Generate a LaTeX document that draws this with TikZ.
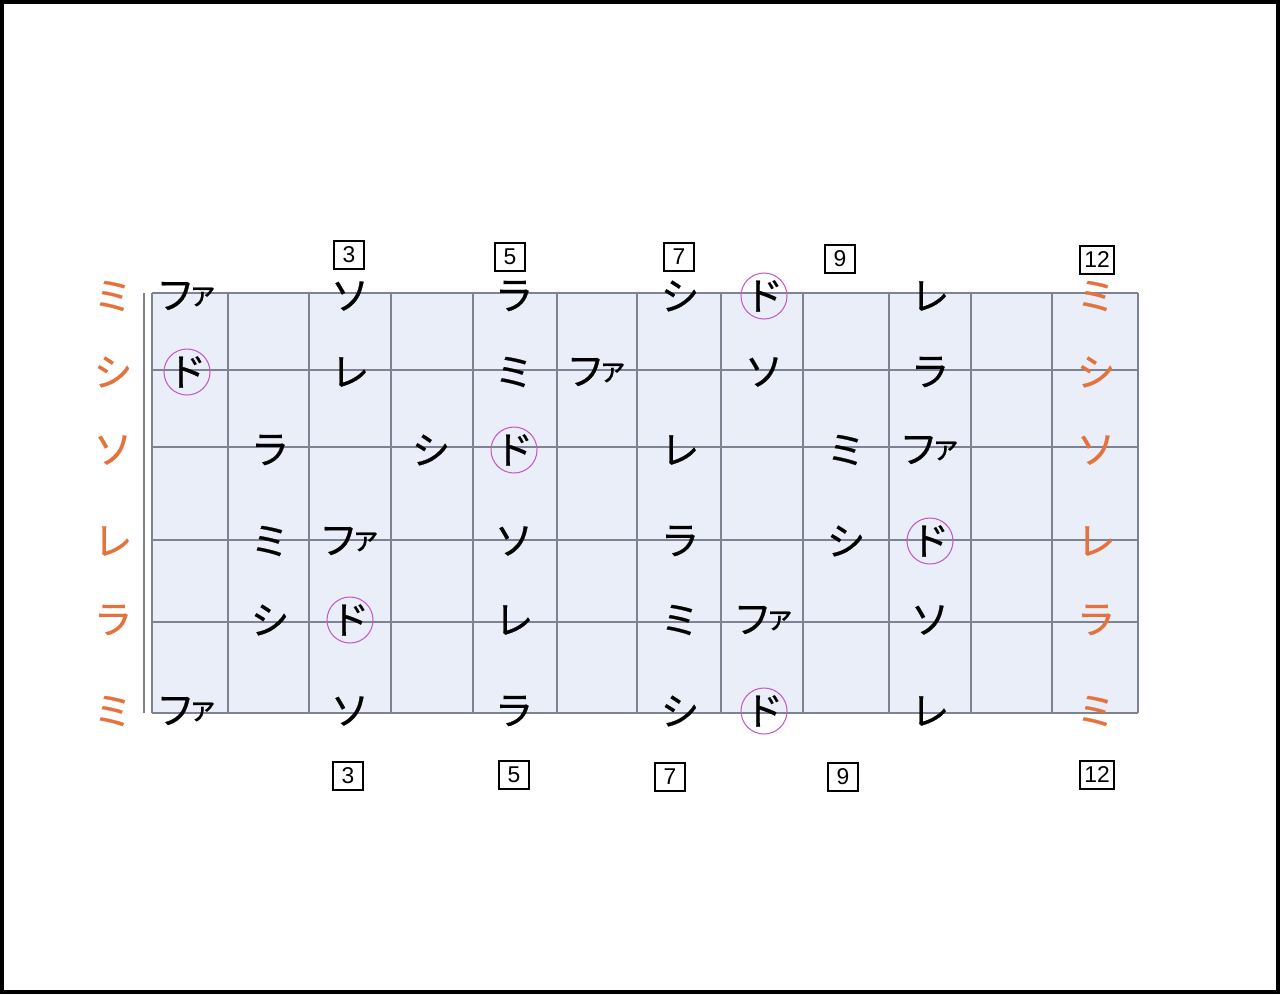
\documentclass[tikz,border=0pt]{standalone}
\usepackage{fontspec}
\newfontfamily\jpfont[FakeBold=0.6]{Noto Sans CJK JP}
\newfontfamily\numfont{Liberation Sans}
\definecolor{boardfill}{HTML}{E9EEF8}
\definecolor{fretline}{HTML}{7D8392}
\definecolor{opennote}{HTML}{E5713D}
\definecolor{rootring}{HTML}{C45CC8}
\newcommand\fanote{フ\kern-4pt\raisebox{3pt}{\fontsize{17}{17}\selectfont ァ}}
\begin{document}
\begin{tikzpicture}[x=0.02cm,y=-0.02cm]
\tikzstyle{every node}+=[inner sep=0pt]
\tikzstyle{note}=[font=\jpfont\fontsize{22}{22}\selectfont]
\tikzstyle{open}=[note,text=opennote]
\tikzstyle{fretno}=[draw=black,line width=1.2pt,minimum width=0.6cm,minimum height=0.56cm,font=\numfont\fontsize{13}{13}\selectfont]
\useasboundingbox (0,0) rectangle (1280,994);
\draw [black,line width=2.4pt] (2,2) rectangle (1278,992);
% board
\fill [boardfill] (152,293) rectangle (1138,713);
\draw [fretline,line width=0.8pt] (144,293) -- (144,713);
\foreach \x in {152,228,309,391,473,557,637,721,803,889,971,1052,1138}
  \draw [fretline,line width=0.8pt] (\x,293) -- (\x,713);
\foreach \y in {293,370,447,540,622,713}
  \draw [fretline,line width=0.8pt] (152,\y) -- (1138,\y);
% open strings and 12th fret
\foreach \s/\t in {1/ミ,2/シ,3/ソ,4/レ,5/ラ,6/ミ} {
  \pgfmathsetmacro{\py}{{0,296,372,450,541,620,711}[\s]}
  \node [open] (o\s) at (113,\py) {\t};
  \node [open] (t\s) at (1096,\py) {\t};
}
% notes: string/fret/name
\foreach \s/\f/\t in {1/1/\fanote,1/3/ソ,1/5/ラ,1/7/シ,1/8/ド,1/10/レ,
    2/1/ド,2/3/レ,2/5/ミ,2/6/\fanote,2/8/ソ,2/10/ラ,
    3/2/ラ,3/4/シ,3/5/ド,3/7/レ,3/9/ミ,3/10/\fanote,
    4/2/ミ,4/3/\fanote,4/5/ソ,4/7/ラ,4/9/シ,4/10/ド,
    5/2/シ,5/3/ド,5/5/レ,5/7/ミ,5/8/\fanote,5/10/ソ,
    6/1/\fanote,6/3/ソ,6/5/ラ,6/7/シ,6/8/ド,6/10/レ} {
  \pgfmathsetmacro{\px}{{113,187,270,350,431,514,597,680,764,846,930,1011,1096}[\f]}
  \pgfmathsetmacro{\py}{{0,296,372,450,541,620,711}[\s]}
  \node [note] (n\s-\f) at (\px,\py) {\t};
}
% roots
\foreach \n in {n1-8,n2-1,n3-5,n4-10,n5-3,n6-8}
  \draw [rootring,line width=0.6pt] (\n) circle (23);
% fret numbers
\node [fretno] (u3) at (349,255) {3};
\node [fretno] (u5) at (510,257) {5};
\node [fretno] (u7) at (679,257) {7};
\node [fretno] (u9) at (840,259) {9};
\node [fretno,minimum width=0.68cm] (u12) at (1097,260) {12};
\node [fretno] (d3) at (348,776) {3};
\node [fretno] (d5) at (514,775) {5};
\node [fretno] (d7) at (670,777) {7};
\node [fretno] (d9) at (843,777) {9};
\node [fretno,minimum width=0.68cm] (d12) at (1097,775) {12};
\end{tikzpicture}
\end{document}
